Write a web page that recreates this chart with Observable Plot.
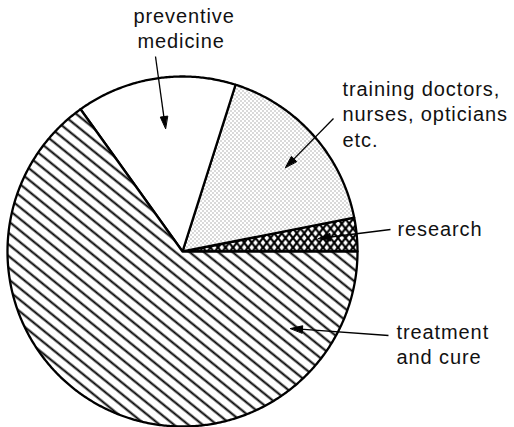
<!DOCTYPE html>
<html><head><meta charset="utf-8">
<script src="https://cdn.jsdelivr.net/npm/d3@7"></script>
<script src="https://cdn.jsdelivr.net/npm/@observablehq/plot@0.6"></script>
<style>html,body{margin:0;padding:0;background:#fff;}</style>
</head><body><div id="chart"></div>
<script>
// ---- data (counter-clockwise from 3 o'clock) ----
const categories = ["research", "training doctors, nurses, opticians etc.", "preventive medicine", "treatment and cure"];
const shares = [3.1, 17.0, 14.8, 65.1];

// ---- label text ----
const labelText = ["preventive", "medicine", "training doctors,", "nurses, opticians", "etc.", "research", "treatment", "and cure"];

// ---- layout (pixels) ----
const pieLayout = {cx: 182, cy: 251, r: 175};
const labelPos = [[133, 22], [137, 47], [342, 95], [342, 120], [342, 146], [397, 235], [396, 338], [396, 363]];
const leaderFrom = [[155, 56], [333, 118], [390, 229], [388, 335]];
const leaderTo = [[165, 128], [285, 167], [318, 238], [290, 328]];

// ---- styles ----
const sliceFill = {"research": "url(#cross)", "training doctors, nurses, opticians etc.": "url(#dots)", "preventive medicine": "white", "treatment and cure": "url(#hatch)"};

// build slice polygons from the shares
const total = d3.sum(shares);
let cum = 0;
const slices = categories.map((c, i) => {
  const a0 = 2 * Math.PI * cum / total;
  cum += shares[i];
  const a1 = 2 * Math.PI * cum / total;
  const {cx, cy, r} = pieLayout;
  const pts = [{x: cx, y: cy}];
  const n = Math.max(2, Math.ceil((a1 - a0) / (Math.PI / 360)));
  for (let k = 0; k <= n; ++k) {
    const t = a0 + (a1 - a0) * k / n;
    pts.push({x: cx + r * Math.cos(t), y: cy - r * Math.sin(t)});
  }
  return {category: c, pts};
});

// arrowheads
const heads = [];
const links = [];
leaderFrom.forEach((f, i) => {
  const t = leaderTo[i];
  const dx = t[0] - f[0], dy = t[1] - f[1];
  const len = Math.hypot(dx, dy);
  const ux = dx / len, uy = dy / len;
  const L = 12, W = 3.6;
  const bx = t[0] - L * ux, by = t[1] - L * uy;
  heads.push({k: i, x: t[0], y: t[1]});
  heads.push({k: i, x: bx - W * uy, y: by + W * ux});
  heads.push({k: i, x: bx + W * uy, y: by - W * ux});
  links.push({x1: f[0], y1: f[1], x2: bx + 2 * ux, y2: by + 2 * uy});
});

const svg = Plot.plot({
  width: 514, height: 427, margin: 0,
  style: {background: "white", letterSpacing: "0.9px"},
  x: {domain: [0, 514], range: [0, 514], axis: null},
  y: {domain: [0, 427], range: [0, 427], axis: null},
  marks: [
    ...slices.map(s => Plot.line(s.pts, {x: "x", y: "y", curve: "linear-closed", fill: sliceFill[s.category], stroke: "black", strokeWidth: 2.3, strokeLinejoin: "round"})),
    Plot.link(links, {x1: "x1", y1: "y1", x2: "x2", y2: "y2", stroke: "black", strokeWidth: 1.3}),
    Plot.line(heads, {x: "x", y: "y", z: "k", curve: "linear-closed", fill: "black", stroke: "black", strokeWidth: 1}),
    Plot.text(labelText, {x: (d, i) => labelPos[i][0], y: (d, i) => labelPos[i][1], text: d => d, textAnchor: "start", lineAnchor: "bottom", fontSize: 20, fontFamily: "Liberation Sans, Arial, sans-serif", fill: "#111"})
  ]
});

// patterns
const defs = d3.select(svg).insert("defs", ":first-child");
const hs = 9;
const hatch = defs.append("pattern").attr("id", "hatch").attr("patternUnits", "userSpaceOnUse")
  .attr("width", hs).attr("height", hs).attr("patternTransform", "rotate(39)");
hatch.append("rect").attr("width", hs).attr("height", hs).attr("fill", "white");
hatch.append("line").attr("x1", -1).attr("x2", hs + 1).attr("y1", hs / 2).attr("y2", hs / 2).attr("stroke", "black").attr("stroke-width", 2);

const dots = defs.append("pattern").attr("id", "dots").attr("patternUnits", "userSpaceOnUse")
  .attr("width", 4).attr("height", 4);
dots.append("rect").attr("width", 4).attr("height", 4).attr("fill", "white");
dots.append("rect").attr("x", 0).attr("y", 0).attr("width", 1).attr("height", 1).attr("fill", "#666");
dots.append("rect").attr("x", 2).attr("y", 2).attr("width", 1).attr("height", 1).attr("fill", "#666");

const cross = defs.append("pattern").attr("id", "cross").attr("patternUnits", "userSpaceOnUse")
  .attr("width", 7.5).attr("height", 9.5);
cross.append("rect").attr("width", 7.5).attr("height", 9.5).attr("fill", "white");
cross.append("path").attr("d", "M-0.75,-0.95L8.25,10.45M8.25,-0.95L-0.75,10.45").attr("stroke", "black").attr("stroke-width", 2.2).attr("fill", "none");

document.getElementById("chart").appendChild(svg);
</script>
</body></html>
